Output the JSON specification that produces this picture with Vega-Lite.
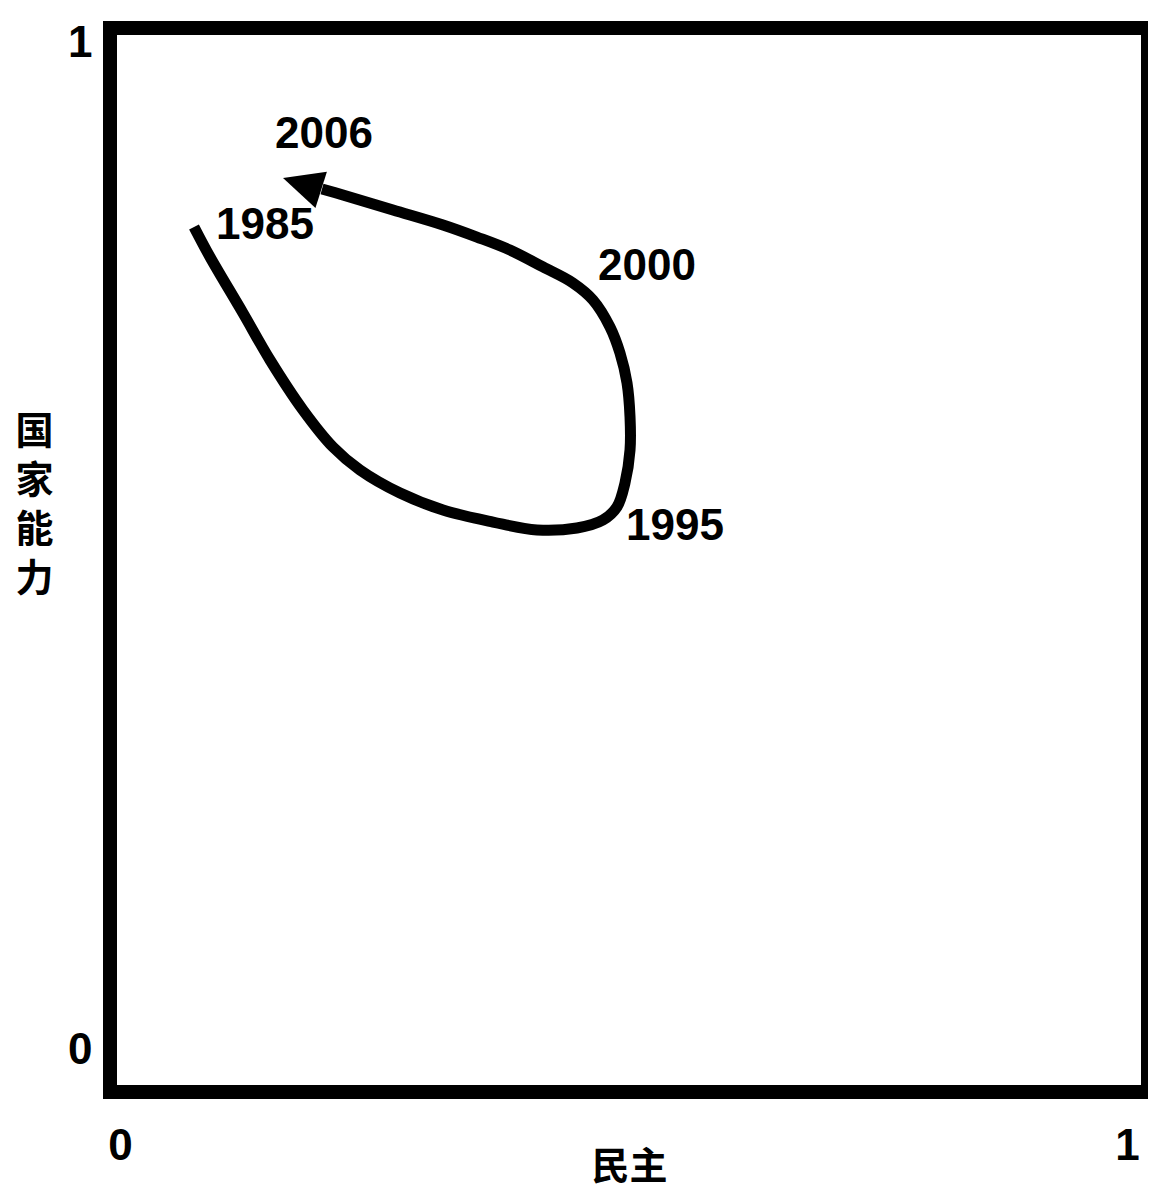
{
  "$schema": "https://vega.github.io/schema/vega-lite/v6.json",
  "autosize": {"type": "none"},
  "padding": {"left": 110, "top": 28, "right": 0, "bottom": 100},
  "width": 1038,
  "height": 1064,
  "background": "white",
  "config": {
    "view": {"stroke": "black", "strokeWidth": 14},
    "axis": {"domain": false, "ticks": false, "grid": false}
  },
  "datasets": {
    "curve": [
      {"i": 1, "x": 0.0735, "y": 0.8173},
      {"i": 2, "x": 0.0894, "y": 0.7875},
      {"i": 3, "x": 0.1221, "y": 0.7319},
      {"i": 4, "x": 0.1490, "y": 0.6852},
      {"i": 5, "x": 0.1817, "y": 0.6356},
      {"i": 6, "x": 0.2115, "y": 0.5988},
      {"i": 7, "x": 0.2383, "y": 0.5760},
      {"i": 8, "x": 0.2781, "y": 0.5531},
      {"i": 9, "x": 0.3208, "y": 0.5362},
      {"i": 10, "x": 0.3704, "y": 0.5243},
      {"i": 11, "x": 0.4141, "y": 0.5164},
      {"i": 12, "x": 0.4538, "y": 0.5184},
      {"i": 13, "x": 0.4796, "y": 0.5263},
      {"i": 14, "x": 0.4935, "y": 0.5392},
      {"i": 15, "x": 0.5015, "y": 0.5631},
      {"i": 16, "x": 0.5065, "y": 0.5958},
      {"i": 17, "x": 0.5065, "y": 0.6286},
      {"i": 18, "x": 0.5035, "y": 0.6624},
      {"i": 19, "x": 0.4965, "y": 0.6922},
      {"i": 20, "x": 0.4866, "y": 0.7180},
      {"i": 21, "x": 0.4697, "y": 0.7448},
      {"i": 22, "x": 0.4498, "y": 0.7617},
      {"i": 23, "x": 0.4201, "y": 0.7776},
      {"i": 24, "x": 0.3873, "y": 0.7944},
      {"i": 25, "x": 0.3545, "y": 0.8073},
      {"i": 26, "x": 0.3208, "y": 0.8193},
      {"i": 27, "x": 0.2711, "y": 0.8342},
      {"i": 28, "x": 0.2214, "y": 0.8491},
      {"i": 29, "x": 0.2006, "y": 0.8550}
    ],
    "arrow": [{"x": 0.1619, "y": 0.8660}],
    "labels": [
      {"year": "2006", "x": 0.2026, "y": 0.9091},
      {"year": "1985", "x": 0.1440, "y": 0.8178},
      {"year": "2000", "x": 0.5233, "y": 0.7771},
      {"year": "1995", "x": 0.5511, "y": 0.5189}
    ]
  },
  "encoding": {
    "x": {
      "field": "x", "type": "quantitative",
      "scale": {"domain": [-0.00993, 1.0209], "nice": false, "zero": false},
      "axis": {
        "values": [0, 1], "format": "d", "title": "民主",
        "labelFont": "Liberation Sans", "labelFontWeight": "bold", "labelFontSize": 44,
        "labelColor": "black", "labelBaseline": "top", "labelPadding": 32, "labelFlush": false,
        "titleFont": "Noto Sans CJK SC", "titleFontWeight": "bold", "titleFontSize": 38,
        "titleColor": "black", "titleBaseline": "middle", "titleY": 75
      }
    },
    "y": {
      "field": "y", "type": "quantitative",
      "scale": {"domain": [-0.0417, 1.0149], "nice": false, "zero": false},
      "axis": {
        "values": [0, 1], "format": "d", "title": ["国", "家", "能", "力"],
        "labelFont": "Liberation Sans", "labelFontWeight": "bold", "labelFontSize": 44,
        "labelColor": "black", "labelBaseline": "middle", "labelPadding": 18, "labelFlush": false,
        "titleFont": "Noto Sans CJK SC", "titleFontWeight": "bold", "titleFontSize": 38,
        "titleColor": "black", "titleAngle": 0, "titleAlign": "center", "titleBaseline": "top",
        "titleLineHeight": 49, "titleX": -76, "titleY": 385
      }
    }
  },
  "layer": [
    {
      "data": {"name": "curve"},
      "mark": {"type": "line", "color": "black", "strokeWidth": 11, "interpolate": "catmull-rom", "strokeCap": "butt", "strokeJoin": "round"},
      "encoding": {"order": {"field": "i", "type": "quantitative"}}
    },
    {
      "data": {"name": "arrow"},
      "mark": {"type": "point", "shape": "M0,0L2,-0.95L2,0.95Z", "size": 1600, "filled": true, "color": "black", "opacity": 1, "angle": 17.5, "strokeWidth": 0}
    },
    {
      "data": {"name": "labels"},
      "mark": {"type": "text", "font": "Liberation Sans", "fontWeight": "bold", "fontSize": 44, "color": "black", "align": "center", "baseline": "middle"},
      "encoding": {"text": {"field": "year", "type": "nominal"}}
    }
  ]
}
